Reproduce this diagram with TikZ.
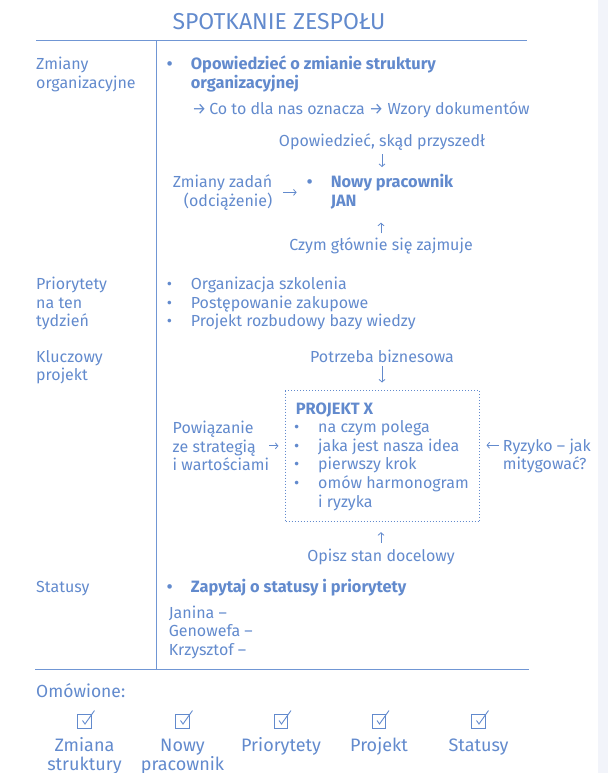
\documentclass[tikz,border=0pt]{standalone}
\usepackage{fontspec}
\setmainfont{Fira Sans}
\usetikzlibrary{positioning,arrows.meta}
\definecolor{ink}{RGB}{98,138,205}
\definecolor{rulec}{RGB}{112,150,212}
\definecolor{strip}{RGB}{242,244,250}
\newcommand{\bul}[1]{\makebox[24pt][l]{•}#1}
\newcommand{\cont}[1]{\hspace*{24pt}#1}
\tikzset{
  >={Straight Barb[length=2.6pt,width=6pt]},
  txt/.style={text=ink, inner sep=0pt, align=left, font=\fontsize{16}{18.7}\selectfont},
  lbl/.style={txt, anchor=base west},
  hdr/.style={font=\fontsize{16.4}{18.7}\selectfont\bfseries},
  arr/.style={draw=ink, line width=0.8pt, ->},
  chk/.style={draw=ink, line width=0.9pt, minimum size=13.5pt, inner sep=0pt},
  bot/.style={txt, align=center, font=\fontsize{18}{19}\selectfont}
}
\begin{document}
\begin{tikzpicture}[x=1pt,y=-1pt]
\useasboundingbox (0,0) rectangle (608,773);
\fill[strip] (598,0) rectangle (608,773);
% frame
\node[txt, font=\fontsize{23}{24}\selectfont, anchor=base] (title) at (279,30) {SPOTKANIE ZESPOŁU};
\draw[rulec, line width=1pt] (36,41) -- (527,41);
\draw[rulec, line width=1pt] (156,41) -- (156,669);
\draw[rulec, line width=1pt] (35,669) -- (529,669);
% left column (base = last line)
\node[lbl] (zmiany) at (36,88.7) {Zmiany\\organizacyjne};
\node[lbl] (prio) at (36,326.7) {Priorytety\\na ten\\tydzień};
\node[lbl] (klucz) at (36,380.7) {Kluczowy\\projekt};
\node[lbl] (stat) at (36,592) {Statusy};
% zmiany organizacyjne
\node[lbl, hdr] (opow) at (166.7,88.7) {\bul{Opowiedzieć o zmianie struktury}\\\cont{organizacyjnej}};
\node[lbl] (coto) at (192,114) {→\,Co to dla nas oznacza → Wzory dokumentów};
\node[lbl, anchor=base] (skad) at (382,146.5) {Opowiedzieć, skąd przyszedł};
\node[lbl, hdr] (nowy) at (306.6,206.2) {\bul{Nowy pracownik}\\\cont{JAN}};
\node[lbl, anchor=base east, align=right] (zadan) at (272.5,206.2) {Zmiany zadań\\(odciążenie)};
\node[lbl, anchor=base] (czym) at (381,250) {Czym głównie się zajmuje};
\draw[arr, shorten <=3.5pt, shorten >=7pt] (skad.south) -- (skad.south |- nowy.north);
\draw[arr, shorten <=3.5pt, shorten >=13.5pt] (czym.north) -- (czym.north |- nowy.south);
\draw[arr, shorten <=10.5pt, shorten >=10pt] (zadan.east) -- (zadan.east -| nowy.west);
% priorytety
\node[lbl] (lista) at (166.7,326.7) {\bul{Organizacja szkolenia}\\\bul{Postępowanie zakupowe}\\\bul{Projekt rozbudowy bazy wiedzy}};
% kluczowy projekt
\node[lbl, anchor=base] (need) at (382,362) {Potrzeba biznesowa};
\node[draw=ink, line width=1pt, dotted, minimum width=194pt, minimum height=131pt, inner sep=0pt] (boxX) at (382.5,456.2) {};
\node[lbl, hdr] (projx) at (295.7,414) {PROJEKT X};
\node[lbl] (projlist) at (294,507.1) {\bul{na czym polega}\\\bul{jaka jest nasza idea}\\\bul{pierwszy krok}\\\bul{omów harmonogram}\\\cont{i ryzyka}};
\node[lbl] (powiaz) at (172.5,470.7) {Powiązanie\\ze strategią\\i wartościami};
\node[lbl] (ryzyko) at (502.7,469.7) {Ryzyko – jak\\mitygować?};
\node[lbl, anchor=base] (opisz) at (381,561) {Opisz stan docelowy};
\draw[arr, shorten <=4pt, shorten >=7.7pt] (need.south) -- (need.south |- boxX.north);
\draw[arr, shorten <=5.5pt, shorten >=10pt] (opisz.north) -- (opisz.north |- boxX.south);
\draw[arr, shorten >=6.6pt] (powiaz.east) -- (powiaz.east -| boxX.west);
\draw[arr, shorten <=3.5pt, shorten >=6.5pt] ([yshift=-7pt]ryzyko.north west) -- ([yshift=-7pt]ryzyko.north west -| boxX.east);
% statusy
\node[lbl, hdr] (pytaj) at (166.7,592) {\bul{Zapytaj o statusy i priorytety}};
\node[lbl, font=\fontsize{16}{18.4}\selectfont] (osoby) at (168.6,655) {Janina –\\Genowefa –\\Krzysztof –};
% omowione
\node[lbl, font=\fontsize{17.5}{21}\selectfont] (omow) at (36,697) {Omówione:};
\foreach \x/\n/\t/\b in {84.5/zm/{Zmiana\\struktury}/770.7,182.5/np/{Nowy\\pracownik}/770.7,281/pr/Priorytety/751.7,379/pj/Projekt/751.7,478.5/st/Statusy/751.7} {
  \node[chk] (box-\n) at (\x,721.5) {};
  \draw[ink, line width=0.9pt] ([shift={(-2,-1)}]box-\n.center) -- ([shift={(0.5,2.5)}]box-\n.center) -- ([shift={(10,-11)}]box-\n.center);
  \node[bot, anchor=base] (lab-\n) at (\x,\b) {\t};
}
\end{tikzpicture}
\end{document}
